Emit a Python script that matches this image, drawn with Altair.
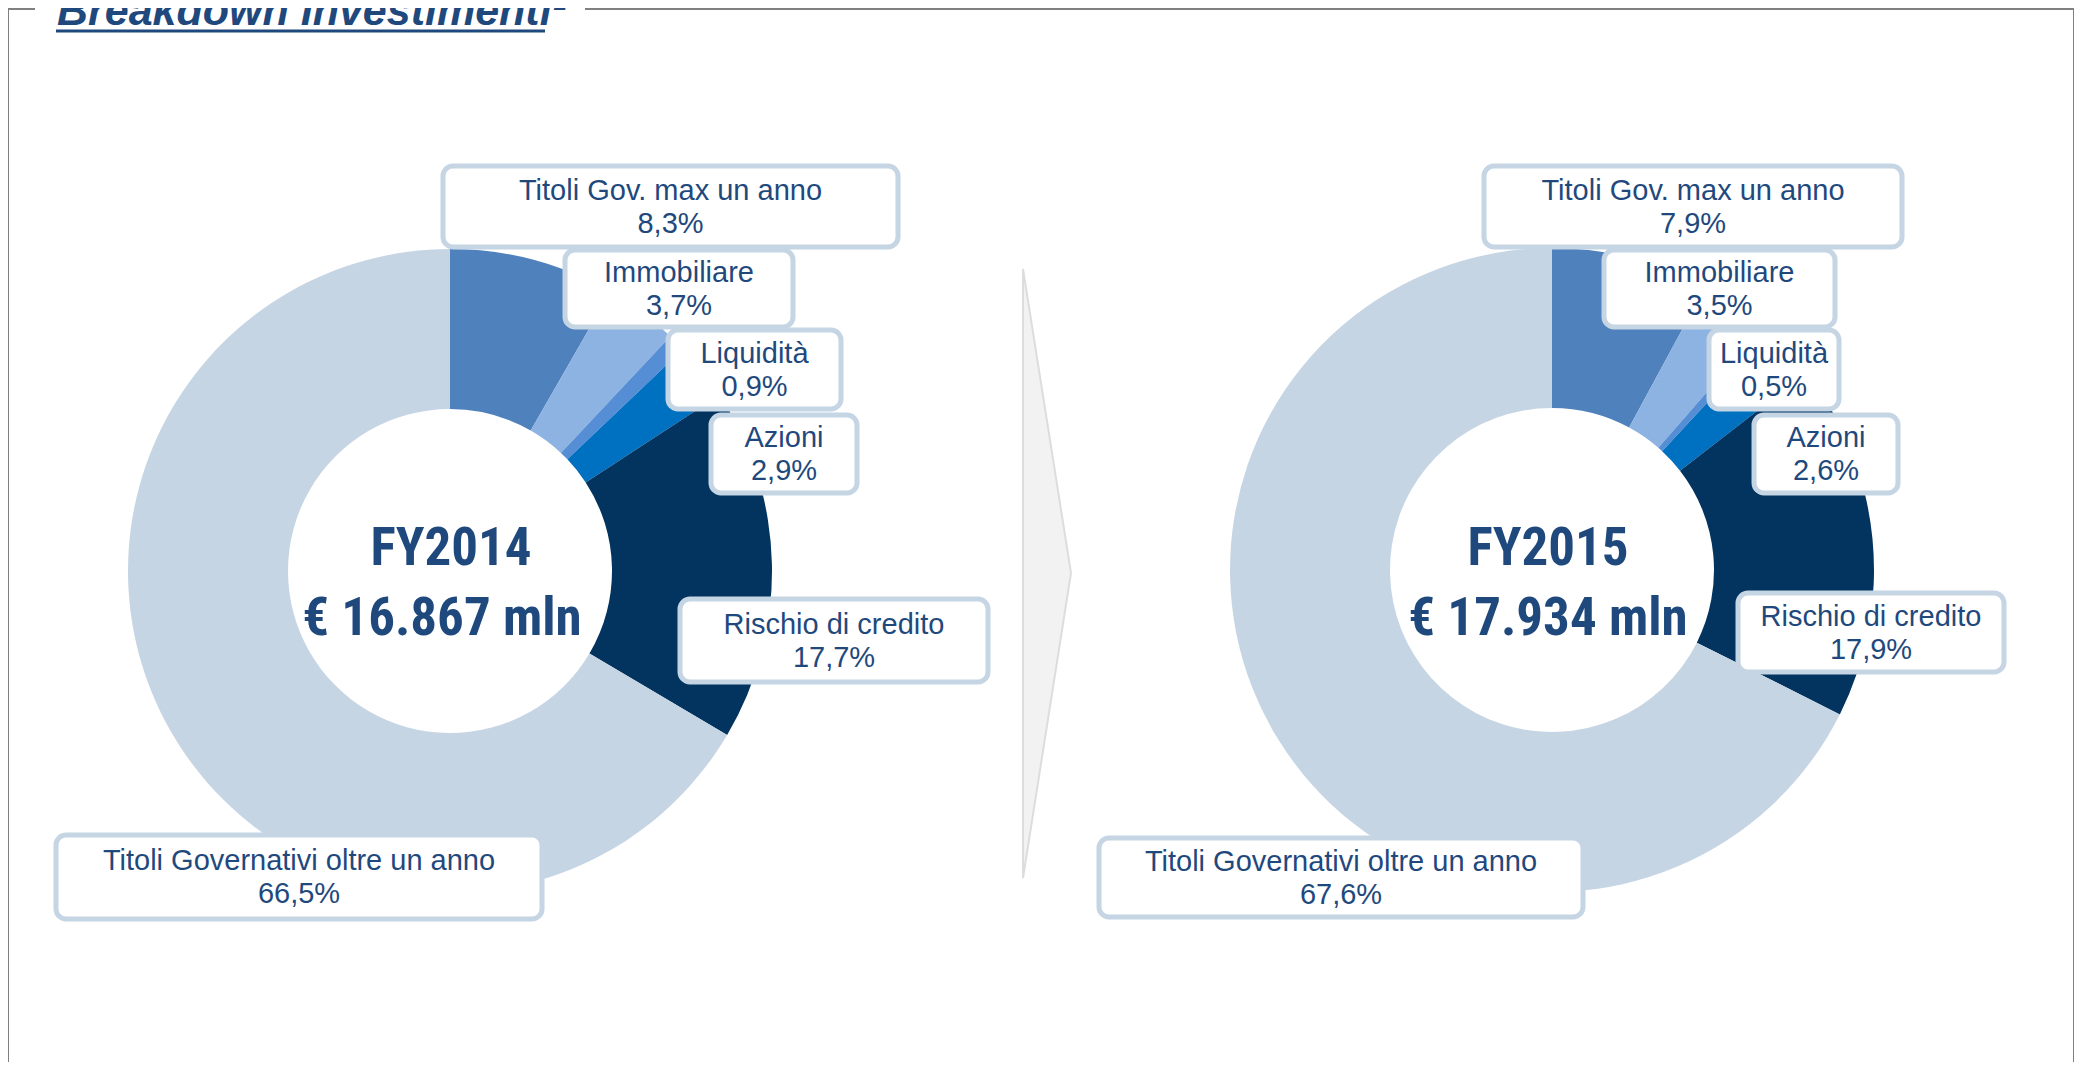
import altair as alt
import pandas as pd

# ---------------- data ----------------
categories = ["Titoli Gov. max un anno", "Immobiliare", "Liquidità", "Azioni",
              "Rischio di credito", "Titoli Governativi oltre un anno"]
values_2014 = [8.3, 3.7, 0.9, 2.9, 17.7, 66.5]
values_2015 = [7.9, 3.5, 0.5, 2.6, 17.9, 67.6]
years = ["FY2014", "FY2015"]
totals = ["€ 16.867 mln", "€ 17.934 mln"]
title_text = "Breakdown Investimenti¹"

# ---------------- style / layout ----------------
colors = ["#4F81BD", "#8DB3E2", "#558ED5", "#0070C0", "#03345F", "#C6D5E4"]
TXT = "#1F497D"
BOX_STROKE = "#C6D5E4"
LABEL_FONT = "Century Gothic, Liberation Sans, Arial, sans-serif"
CENTER_FONT = "Roboto Condensed, Liberation Sans, Arial, sans-serif"
TITLE_FONT = "Century Gothic, Liberation Sans, Arial, sans-serif"

OFF = 8
W, H = 2066, 1054
R_OUT, R_IN = 322, 162
centers = {"FY2014": (450, 571), "FY2015": (1552, 570)}
total_x = {"FY2014": 442, "FY2015": 1548}
fy_x = {"FY2014": 451, "FY2015": 1548}
boxes = {
    "FY2014": [(443, 898, 166, 247), (565, 793, 250, 327), (668, 841, 330, 409),
               (711, 857, 415, 493), (680, 988, 599, 682), (56, 542, 835, 919)],
    "FY2015": [(1484, 1902, 166, 247), (1604, 1835, 250, 327), (1709, 1839, 330, 409),
               (1754, 1898, 415, 493), (1738, 2004, 593, 672), (1099, 1583, 838, 917)],
}

# ---------------- tables ----------------
rows = []
for yr, vals in zip(years, [values_2014, values_2015]):
    for i, (c, v) in enumerate(zip(categories, vals)):
        x0, x1, y0, y1 = boxes[yr][i]
        my = (y0 + y1) / 2
        rows.append({
            "year": yr, "cat": c, "value": v, "idx": i,
            "pct": f"{v:.1f}".replace(".", ",") + "%",
            "bx0": x0 - OFF, "bx1": x1 - OFF, "by0": y0 - OFF, "by1": y1 - OFF,
            "tx": (x0 + x1) / 2 - OFF, "ty1": my - 16 - OFF, "ty2": my + 17 - OFF,
        })
df = pd.DataFrame(rows)

center_df = pd.DataFrame({
    "year": years, "total": totals,
    "fx": [fy_x[y] - OFF for y in years],
    "tx": [total_x[y] - OFF for y in years],
    "fy": [565 - OFF] * 2, "ty": [635 - OFF] * 2,
})

chev_df = pd.DataFrame({"x": [1023 - OFF, 1071 - OFF],
                        "y": [269 - OFF, 573 - OFF],
                        "y2": [878 - OFF, 573 - OFF]})

frame_df = pd.DataFrame({
    "x": [8, 585, 8, 2074], "x2": [35, 2084, 8, 2074],
    "y": [8, 8, 8, 8], "y2": [8, 8, 1076, 1076],
})
frame_df[["x", "x2", "y", "y2"]] -= OFF
frame_df["y"] = frame_df["y"].clip(lower=1)
frame_df["y2"] = frame_df["y2"].where(frame_df["y2"] > 0, 1)

title_df = pd.DataFrame({"t": [title_text], "x": [57 - OFF], "y": [25 - OFF]})
uline_df = pd.DataFrame({"x": [56 - OFF], "x2": [545 - OFF], "y": [31 - OFF]})

# ---------------- layers ----------------
X = lambda f: alt.X(f, scale=None, axis=None)
Y = lambda f: alt.Y(f, scale=None, axis=None)

chevron = alt.Chart(chev_df).mark_area(
    fill="#F2F2F2", stroke="#DDDDDD", strokeWidth=2, orient="vertical"
).encode(x=X("x:Q"), y=Y("y:Q"), y2="y2:Q")

donuts = []
for yr in years:
    cx, cy = centers[yr]
    donuts.append(
        alt.Chart(df).transform_filter(alt.datum.year == yr).mark_arc(
            innerRadius=R_IN, outerRadius=R_OUT
        ).encode(
            theta=alt.Theta("value:Q", stack=True),
            order=alt.Order("idx:Q"),
            color=alt.Color("cat:N", scale=alt.Scale(domain=categories, range=colors), legend=None),
            x=alt.value(cx - OFF), y=alt.value(cy - OFF),
        )
    )

fy_text = alt.Chart(center_df).mark_text(
    font=CENTER_FONT, fontSize=53, fontWeight="bold", color=TXT, baseline="alphabetic", align="center"
).encode(x=X("fx:Q"), y=Y("fy:Q"), text="year:N")

tot_text = alt.Chart(center_df).mark_text(
    font=CENTER_FONT, fontSize=53, fontWeight="bold", color=TXT, baseline="alphabetic", align="center"
).encode(x=X("tx:Q"), y=Y("ty:Q"), text="total:N")

box = alt.Chart(df).mark_rect(
    fill="white", stroke=BOX_STROKE, strokeWidth=5, cornerRadius=10
).encode(x=X("bx0:Q"), x2="bx1:Q", y=Y("by0:Q"), y2="by1:Q")

lab1 = alt.Chart(df).mark_text(
    font=LABEL_FONT, fontSize=29, color=TXT, baseline="middle", align="center"
).encode(x=X("tx:Q"), y=Y("ty1:Q"), text="cat:N")

lab2 = alt.Chart(df).mark_text(
    font=LABEL_FONT, fontSize=29, color=TXT, baseline="middle", align="center"
).encode(x=X("tx:Q"), y=Y("ty2:Q"), text="pct:N")

frame = alt.Chart(frame_df).mark_rule(color="#808080", strokeWidth=2).encode(
    x=X("x:Q"), x2="x2:Q", y=Y("y:Q"), y2="y2:Q")

title = alt.Chart(title_df).mark_text(
    font=TITLE_FONT, fontSize=43, fontWeight="bold", fontStyle="italic", color=TXT,
    align="left", baseline="alphabetic"
).encode(x=X("x:Q"), y=Y("y:Q"), text="t:N")

uline = alt.Chart(uline_df).mark_rule(color=TXT, strokeWidth=3).encode(
    x=X("x:Q"), x2="x2:Q", y=Y("y:Q"))

chart = alt.layer(
    chevron, *donuts, fy_text, tot_text, box, lab1, lab2, frame, title, uline
).properties(
    width=W, height=H, padding=0, autosize="none"
).configure_view(stroke=None)

chart.save("out.html", embed_options={"renderer": "svg", "actions": False})
